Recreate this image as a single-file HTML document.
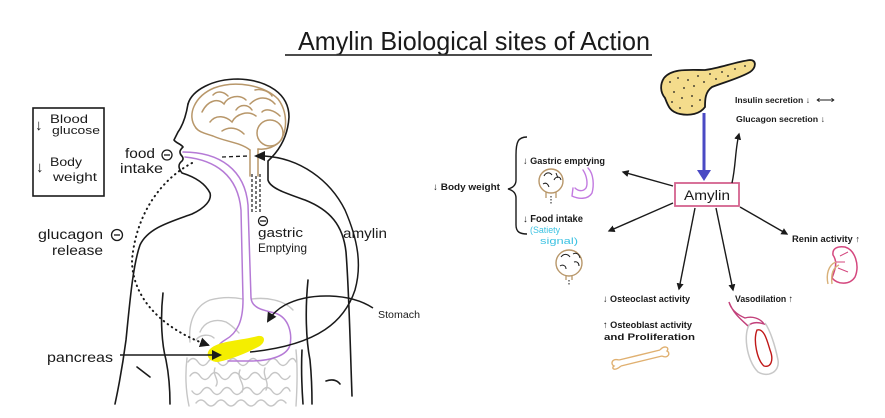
<!DOCTYPE html>
<html><head><meta charset="utf-8"><style>
html,body{margin:0;padding:0;background:#fff;}
svg{display:block;}
text{font-family:"Liberation Sans",sans-serif;fill:#1a1a1a;}
.b{font-weight:bold;}
</style></head><body>
<svg width="885" height="418" viewBox="0 0 885 418" xmlns="http://www.w3.org/2000/svg">
<defs>
<marker id="ah" viewBox="0 0 10 10" refX="8" refY="5" markerWidth="7" markerHeight="7" orient="auto-start-reverse" markerUnits="userSpaceOnUse"><path d="M0,0 L10,5 L0,10 Z" fill="#1a1a1a"/></marker>
<marker id="ah2" viewBox="0 0 10 10" refX="8" refY="5" markerWidth="10" markerHeight="10" orient="auto" markerUnits="userSpaceOnUse"><path d="M0,0 L10,5 L0,10 Z" fill="#1a1a1a"/></marker>
</defs>

<!-- Title -->
<text x="298" y="50" font-size="26" textLength="352" lengthAdjust="spacingAndGlyphs">Amylin Biological sites of Action</text>
<line x1="285" y1="55" x2="652" y2="55" stroke="#333" stroke-width="1.8"/>

<!-- Left box -->
<rect x="33" y="108" width="71" height="88" fill="none" stroke="#1a1a1a" stroke-width="1.6"/>
<text x="35" y="130" font-size="15">↓</text>
<text x="50" y="123" font-size="12" textLength="38" lengthAdjust="spacingAndGlyphs">Blood</text>
<text x="52" y="134" font-size="11" textLength="48" lengthAdjust="spacingAndGlyphs">glucose</text>
<text x="36" y="172" font-size="15">↓</text>
<text x="50" y="166" font-size="12" textLength="32" lengthAdjust="spacingAndGlyphs">Body</text>
<text x="53" y="181" font-size="12" textLength="44" lengthAdjust="spacingAndGlyphs">weight</text>

<!-- Gray intestines / liver -->
<g fill="none" stroke="#c6c6c6" stroke-width="1.4" stroke-linecap="round">
<path d="M190 342 C188 322 195 306 210 300 C225 296 238 298 243 299"/>
<path d="M252 299 C266 297 284 300 293 310"/>
<path d="M200 332 C204 322 215 318 226 322 C233 326 236 330 239 333"/>
<path d="M196 340 C200 334 210 334 214 338"/>
<path d="M188 362 q5 -7 10 0 t10 0 t10 0 t10 0 t10 0 t10 0 t10 0 t10 0 t10 0 t10 0 t8 0"/>
<path d="M190 376 q5 -7 10 0 t10 0 t10 0 t10 0 t10 0 t10 0 t10 0 t10 0 t10 0 t10 0"/>
<path d="M192 391 q5 7 10 0 t10 0 t10 0 t10 0 t10 0 t10 0 t10 0 t10 0 t10 0 t8 0"/>
<path d="M196 403 q5 -6 10 0 t10 0 t10 0 t10 0 t10 0 t10 0 t10 0 t10 0 t10 0"/>
<path d="M187 358 C185 375 186 392 189 406"/>
<path d="M296 350 C298 370 297 390 296 406"/>
<path d="M215 368 C212 375 220 380 216 386 M240 370 C236 378 246 384 242 392 M265 368 C262 376 270 382 266 390"/>
</g>

<!-- Body outlines -->
<g fill="none" stroke="#1a1a1a" stroke-width="1.6" stroke-linecap="round" stroke-linejoin="round">
<path d="M188 104 C192 90 213 79 238 79 C268 80 289 94 289 117 C288 135 280 150 268 161 L268 180 C270 188 285 193 305 200 C330 210 343 225 346 252 C349 290 350 340 352 396"/>
<path d="M188 104 C186 116 183 125 178 132 L174 140 C176 143 181 144 183 147 C180 150 179 152 181 155 C183 157 184 159 182 161 C178 164 178 168 182 173 C195 177 205 183 210 193 C212 200 205 208 192 214 C170 222 148 228 140 245 C133 265 130 300 126 340 C122 370 118 390 115 404"/>
<path d="M163 293 C160 320 162 345 166 360 C169 375 170 390 170 404"/>
<path d="M308 280 C305 310 306 340 310 360 C312 380 312 395 312 404"/>
<path d="M302 350 C301 370 302 390 303 404"/>
<path d="M137 367 L150 377"/>
<path d="M326 381 C332 379 337 380 340 384"/>
</g>

<!-- Brain (tan) -->
<g fill="none" stroke="#b8976a" stroke-width="1.5" stroke-linecap="round">
<path d="M196 128 C186 115 195 96 214 88 C235 80 264 85 278 99 C288 112 287 130 281 140 C276 147 266 150 258 149"/>
<path d="M250 150 C240 142 226 142 213 136 C204 133 199 132 196 128"/>
<path d="M250 150 L250 176 M258 149 L258 176"/>
<circle cx="270" cy="133" r="13"/>
<path d="M202 112 C208 100 218 98 224 104 C228 96 240 94 246 100"/>
<path d="M210 122 C216 114 226 116 232 122 C236 114 248 110 256 116"/>
<path d="M222 131 C230 126 238 128 244 134"/>
<path d="M250 104 C258 96 268 96 275 104"/>
<path d="M236 110 C240 104 248 104 252 110 M262 112 C266 108 274 110 280 116"/>
<path d="M213 95 C218 90 224 92 228 96 M255 90 C262 88 270 92 272 96"/>
</g>
<g fill="none" stroke="#1a1a1a" stroke-width="1.2" stroke-dasharray="3 2">
<path d="M252 174 L252 214 M256 176 L256 212 M260 174 L260 214"/>
</g>

<!-- purple esophagus & stomach -->
<g fill="none" stroke="#b57ad6" stroke-width="1.5" stroke-linecap="round">
<path d="M185 157 C215 160 238 175 241 210 L243 300 C243 320 238 333 225 340 C218 344 215 350 217 356"/>
<path d="M183 152 C220 152 245 170 248 205 L251 298 C252 308 262 310 275 313 C290 318 292 335 290 345 C287 356 270 361 250 361 L228 361"/>
</g>

<!-- yellow pancreas -->
<path d="M210 349 C218 341 238 341 258 336 C266 335 266 343 258 347 C248 352 236 358 218 362 C208 362 205 354 210 349 Z" fill="#f4ee00"/>

<!-- food intake dashed -->
<path d="M222 157 L248 156" stroke="#1a1a1a" stroke-width="1.3" stroke-dasharray="4 3" fill="none"/>

<!-- dotted glucagon line -->
<path d="M192 163 C160 180 136 215 132 260 C132 300 165 330 208 345" fill="none" stroke="#1a1a1a" stroke-width="2" stroke-dasharray="0.5 4.5" stroke-linecap="round" marker-end="url(#ah2)"/>

<!-- amylin curve -->
<path d="M264 156 C300 158 330 180 345 210 C358 240 362 265 355 290 C345 320 320 345 250 352" fill="none" stroke="#1a1a1a" stroke-width="1.5"/>
<path d="M254 156 L265 151 L265 161 Z" fill="#1a1a1a"/>

<!-- stomach arrow -->
<path d="M373 308 C350 293 310 292 285 305 C276 310 271 316 268 321" fill="none" stroke="#1a1a1a" stroke-width="1.5" marker-end="url(#ah2)"/>

<!-- pancreas arrow -->
<path d="M120 355 L220 355" fill="none" stroke="#1a1a1a" stroke-width="1.5" marker-end="url(#ah2)"/>

<!-- left labels -->
<text x="125" y="158" font-size="14" textLength="30" lengthAdjust="spacingAndGlyphs">food</text>
<circle cx="167" cy="155" r="5" fill="none" stroke="#1a1a1a" stroke-width="1.3"/><line x1="164" y1="155" x2="170" y2="155" stroke="#1a1a1a" stroke-width="1.3"/>
<text x="120" y="173" font-size="14" textLength="43" lengthAdjust="spacingAndGlyphs">intake</text>
<text x="38" y="239" font-size="14" textLength="65" lengthAdjust="spacingAndGlyphs">glucagon</text>
<circle cx="117" cy="235" r="5.5" fill="none" stroke="#1a1a1a" stroke-width="1.3"/><line x1="114" y1="235" x2="120" y2="235" stroke="#1a1a1a" stroke-width="1.3"/>
<text x="52" y="255" font-size="14" textLength="51" lengthAdjust="spacingAndGlyphs">release</text>
<text x="47" y="362" font-size="14" textLength="66" lengthAdjust="spacingAndGlyphs">pancreas</text>
<circle cx="263" cy="221" r="4.5" fill="none" stroke="#1a1a1a" stroke-width="1.3"/><line x1="260" y1="221" x2="266" y2="221" stroke="#1a1a1a" stroke-width="1.3"/>
<text x="258" y="237" font-size="13" textLength="45" lengthAdjust="spacingAndGlyphs">gastric</text>
<text x="258" y="252" font-size="12" textLength="49" lengthAdjust="spacingAndGlyphs">Emptying</text>
<text x="343" y="238" font-size="14" textLength="44" lengthAdjust="spacingAndGlyphs">amylin</text>
<text x="378" y="318" font-size="10" textLength="42" lengthAdjust="spacingAndGlyphs">Stomach</text>

<!-- RIGHT SIDE -->
<path d="M664 78 C672 68 690 70 705 70 C720 68 735 62 750 60 C757 60 756 68 750 72 C740 78 725 82 712 87 C705 92 705 100 705 107 C700 114 690 116 680 114 C670 112 668 106 665 98 C660 92 660 84 664 78 Z" fill="#f4dc8c" stroke="#1a1a1a" stroke-width="1.8"/>
<g fill="#1a1a1a">
<circle cx="670" cy="82" r="0.9"/><circle cx="678" cy="78" r="0.9"/><circle cx="688" cy="80" r="0.9"/><circle cx="698" cy="76" r="0.9"/><circle cx="710" cy="74" r="0.9"/><circle cx="722" cy="72" r="0.9"/><circle cx="735" cy="69" r="0.9"/><circle cx="745" cy="66" r="0.9"/>
<circle cx="674" cy="92" r="0.9"/><circle cx="684" cy="88" r="0.9"/><circle cx="694" cy="86" r="0.9"/><circle cx="704" cy="82" r="0.9"/><circle cx="716" cy="79" r="0.9"/><circle cx="728" cy="76" r="0.9"/>
<circle cx="672" cy="102" r="0.9"/><circle cx="682" cy="98" r="0.9"/><circle cx="692" cy="96" r="0.9"/><circle cx="680" cy="108" r="0.9"/><circle cx="692" cy="106" r="0.9"/><circle cx="700" cy="100" r="0.9"/>
</g>

<line x1="704" y1="113" x2="704" y2="172" stroke="#4a4ac4" stroke-width="3"/>
<path d="M697 170 L711 170 L704 181 Z" fill="#4a4ac4"/>

<rect x="675" y="183" width="64" height="23" fill="#fff" stroke="#d4628e" stroke-width="1.8"/>
<text x="684" y="200" font-size="14" textLength="46" lengthAdjust="spacingAndGlyphs">Amylin</text>

<g fill="none" stroke="#1a1a1a" stroke-width="1.4">
<path d="M732 183 C736 165 735 150 739 134" marker-end="url(#ah)"/>
<path d="M673 186 L623 172" marker-end="url(#ah)"/>
<path d="M673 203 L609 231" marker-end="url(#ah)"/>
<path d="M695 208 L679 289" marker-end="url(#ah)"/>
<path d="M716 208 L733 290" marker-end="url(#ah)"/>
<path d="M740 207 L787 234" marker-end="url(#ah)"/>
</g>

<text class="b" x="735" y="103" font-size="8.5" textLength="75" lengthAdjust="spacingAndGlyphs">Insulin secretion ↓</text>
<text x="816" y="103" font-size="10" textLength="19" lengthAdjust="spacingAndGlyphs">⟷</text>
<text class="b" x="736" y="122" font-size="8.5" textLength="89" lengthAdjust="spacingAndGlyphs">Glucagon secretion ↓</text>

<path d="M527 137 C518 137 516 142 516 155 L516 180 C516 186 512 188 508 189 C512 190 516 192 516 198 L516 225 C516 232 520 234 527 234" fill="none" stroke="#1a1a1a" stroke-width="1.4"/>
<text class="b" x="433" y="190" font-size="9.5" textLength="67" lengthAdjust="spacingAndGlyphs">↓ Body weight</text>
<text class="b" x="523" y="164" font-size="9.5" textLength="82" lengthAdjust="spacingAndGlyphs">↓ Gastric emptying</text>
<text class="b" x="523" y="222" font-size="10" textLength="60" lengthAdjust="spacingAndGlyphs">↓ Food intake</text>
<text x="530" y="233" font-size="9" textLength="30" lengthAdjust="spacingAndGlyphs" style="fill:#3cc2e2">(Satiety</text>
<text x="540" y="244" font-size="9" textLength="38" lengthAdjust="spacingAndGlyphs" style="fill:#3cc2e2">signal)</text>

<circle cx="551" cy="181" r="12" fill="none" stroke="#b8976a" stroke-width="1.4"/>
<path d="M546 192 L546 198 M556 192 L556 198" stroke="#b8976a" stroke-width="1.3"/>
<g fill="none" stroke="#1a1a1a" stroke-width="1">
<path d="M544 176 C546 172 550 172 552 175 M554 180 C556 176 560 176 561 180 M543 184 C546 182 548 184 549 187 M556 173 L558 178"/>
<path d="M551 196 L551 204" stroke-dasharray="1.5 1.5"/>
</g>
<g fill="none" stroke="#c27ae0" stroke-width="1.4" stroke-linecap="round">
<path d="M588 168 C594 174 594 186 592 193 C588 200 578 199 572 196 L573 188"/>
<path d="M583 170 C587 176 588 184 586 188 C583 192 578 191 575 188"/>
</g>

<circle cx="569" cy="263" r="13" fill="none" stroke="#b8976a" stroke-width="1.4"/>
<path d="M566 275 L566 280 M572 275 L572 280" stroke="#b8976a" stroke-width="1.3"/>
<g fill="none" stroke="#1a1a1a" stroke-width="1">
<path d="M561 257 C564 253 568 254 570 257 M573 254 C576 252 579 254 580 258 M560 266 C563 264 566 266 566 269 M574 262 C577 261 579 263 579 266"/>
<path d="M569 280 L569 286" stroke-dasharray="1.5 1.5"/>
</g>

<path d="M845 247 C855 250 860 265 855 277 C850 285 838 285 832 278 C835 270 838 262 833 255 C832 248 838 246 845 247 Z" fill="none" stroke="#d4477e" stroke-width="1.5"/>
<path d="M836 262 L845 262 M838 268 L848 272 M840 256 L848 252" stroke="#d4477e" stroke-width="1" fill="none"/>
<path d="M836 262 C828 265 826 275 828 284 M839 265 C832 268 831 276 832 284" stroke="#d8b078" stroke-width="1.4" fill="none"/>

<text class="b" x="792" y="242" font-size="9" textLength="68" lengthAdjust="spacingAndGlyphs">Renin activity ↑</text>
<text class="b" x="603" y="302" font-size="9.5" textLength="87" lengthAdjust="spacingAndGlyphs">↓ Osteoclast activity</text>
<text class="b" x="603" y="328" font-size="9.5" textLength="89" lengthAdjust="spacingAndGlyphs">↑ Osteoblast activity</text>
<text class="b" x="604" y="340" font-size="9.5" textLength="91" lengthAdjust="spacingAndGlyphs">and Proliferation</text>
<text class="b" x="735" y="302" font-size="9.5" textLength="58" lengthAdjust="spacingAndGlyphs">Vasodilation ↑</text>

<g fill="none" stroke="#e0b070" stroke-width="1.4">
<path d="M619 360 L660 350 M621 366 L662 356"/>
<path d="M619 360 C612 358 610 364 614 366 C611 368 614 372 621 366"/>
<path d="M660 350 C664 345 670 347 667 351 C671 353 668 359 662 356"/>
</g>

<path d="M729 302 C731 310 738 315 745 318 C752 316 760 318 764 324 C758 322 752 322 748 326 C742 320 734 315 729 302 Z" fill="none" stroke="#c2407a" stroke-width="1.4"/>
<path d="M750 324 C743 332 746 360 758 372 C768 378 780 372 778 360 C775 345 770 330 765 323" fill="none" stroke="#c8c8c8" stroke-width="1.5"/>
<path d="M757 330 C753 340 757 360 764 366 C771 368 774 360 770 350 C767 340 764 328 757 330 Z" fill="none" stroke="#c01818" stroke-width="1.4"/>
</svg>
</body></html>
